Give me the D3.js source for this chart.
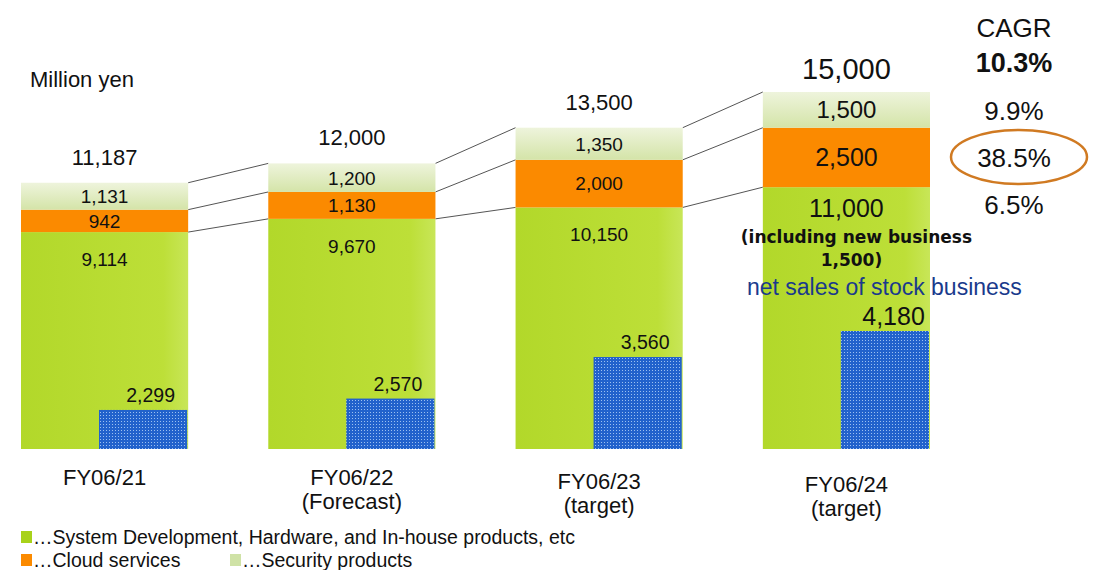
<!DOCTYPE html>
<html>
<head>
<meta charset="utf-8">
<script src="https://cdn.jsdelivr.net/npm/d3@7"></script>
<style>
  body { margin: 0; background: #fff; }
  text { font-family: "Liberation Sans", Arial, sans-serif; fill: #111; }
</style>
</head>
<body>
<script>
var categories = ["FY06/21", "FY06/22", "FY06/23", "FY06/24"];
var subLabels = ["", "(Forecast)", "(target)", "(target)"];
var system = [9114, 9670, 10150, 11000];
var cloud = [942, 1130, 2000, 2500];
var security = [1131, 1200, 1350, 1500];
var totals = [11187, 12000, 13500, 15000];
var stock = [2299, 2570, 3560, 4180];
var cagrLabels = ["10.3%", "9.9%", "38.5%", "6.5%"];

var width = 1099, height = 570;
var svg = d3.select("body").append("svg").attr("width", width).attr("height", height);
var defs = svg.append("defs");

var gGreen = defs.append("linearGradient").attr("id", "gGreen").attr("x1", 0).attr("x2", 1).attr("y1", 0).attr("y2", 0);
gGreen.append("stop").attr("offset", "0%").attr("stop-color", "#b2d82a");
gGreen.append("stop").attr("offset", "85%").attr("stop-color", "#bddf38");
gGreen.append("stop").attr("offset", "100%").attr("stop-color", "#c8e658");

var gLight = defs.append("linearGradient").attr("id", "gLight").attr("x1", 0).attr("x2", 0).attr("y1", 0).attr("y2", 1);
gLight.append("stop").attr("offset", "0%").attr("stop-color", "#eef4dc");
gLight.append("stop").attr("offset", "100%").attr("stop-color", "#d4e4a8");

var pat = defs.append("pattern").attr("id", "dots").attr("width", 3).attr("height", 3).attr("patternUnits", "userSpaceOnUse");
pat.append("rect").attr("width", 3).attr("height", 3).attr("fill", "#2262cc");
pat.append("rect").attr("x", 1).attr("y", 1).attr("width", 1).attr("height", 1).attr("fill", "#9cc0f0");

var x = d3.scaleBand().domain(categories).range([21, 930]).paddingInner(0.324).paddingOuter(0);
var y = d3.scaleLinear().domain([0, 15000]).range([449, 92]);
// stock business bars use their own scale (not to scale in the original)
var yStock = d3.scaleLinear().domain([1368, 4180]).range([0, 118]);

var rows = categories.map(function(c, i) {
  return {cat: c, sys: system[i], cloud: cloud[i], sec: security[i]};
});
var stack = d3.stack().keys(["sys", "cloud", "sec"])(rows);
var fills = {sys: "url(#gGreen)", cloud: "#fb8a00", sec: "url(#gLight)"};

var chartGroup = svg.append("g");

// connector lines between bars
stack.forEach(function(layer) {
  for (var i = 0; i < categories.length - 1; i++) {
    chartGroup.append("line")
      .attr("x1", x(categories[i]) + x.bandwidth())
      .attr("y1", y(layer[i][1]))
      .attr("x2", x(categories[i + 1]))
      .attr("y2", y(layer[i + 1][1]))
      .attr("stroke", "#555").attr("stroke-width", 1);
  }
});

stack.forEach(function(layer) {
  chartGroup.append("g").selectAll("rect")
    .data(layer).enter().append("rect")
      .attr("x", function(d) { return x(d.data.cat); })
      .attr("y", function(d) { return y(d[1]); })
      .attr("width", x.bandwidth())
      .attr("height", function(d) { return y(d[0]) - y(d[1]); })
      .attr("fill", fills[layer.key]);
});

// stock business (blue) bars
chartGroup.append("g").selectAll("rect")
  .data(stock).enter().append("rect")
    .attr("x", function(d, i) { return x(categories[i]) + 78; })
    .attr("y", function(d) { return y(0) - yStock(d); })
    .attr("width", x.bandwidth() - 79)
    .attr("height", function(d) { return yStock(d); })
    .attr("fill", "url(#dots)");

var fmt = d3.format(",");
var big = [false, false, false, true];

// segment labels
stack.forEach(function(layer) {
  layer.forEach(function(d, i) {
    var cx = x(categories[i]) + x.bandwidth() / 2;
    var yy, fs;
    if (layer.key == "sys") yy = y(d[1]) + (big[i] ? 21 : 27);
    else yy = (y(d[0]) + y(d[1])) / 2;
    if (big[i]) fs = (layer.key == "sec") ? "24px" : "25px";
    else fs = "19px";
    chartGroup.append("text")
      .attr("x", cx).attr("y", yy)
      .attr("dy", "0.36em")
      .attr("text-anchor", "middle")
      .style("font-size", fs)
      .text(fmt(d.data[layer.key]));
  });
});

// totals
totals.forEach(function(t, i) {
  chartGroup.append("text")
    .attr("x", x(categories[i]) + x.bandwidth() / 2)
    .attr("y", y(t) - (big[i] ? 13 : 18))
    .attr("text-anchor", "middle")
    .style("font-size", big[i] ? "29px" : "22px")
    .text(fmt(t));
});

// stock labels
stock.forEach(function(s, i) {
  chartGroup.append("text")
    .attr("x", x(categories[i]) + (big[i] ? 162 : 154))
    .attr("y", y(0) - yStock(s) - (big[i] ? 6 : 8))
    .attr("text-anchor", "end")
    .style("font-size", big[i] ? "25px" : "19.5px")
    .text(fmt(s));
});

// note under FY06/24 green value
var cx4 = x(categories[3]) + x.bandwidth() / 2;
chartGroup.append("text")
  .attr("x", cx4 + 10).attr("y", 243)
  .attr("text-anchor", "middle")
  .style("font-family", "'DejaVu Sans', Verdana, sans-serif")
  .style("font-weight", "bold").style("font-size", "17px")
  .text("(including new business");
chartGroup.append("text")
  .attr("x", cx4 + 5).attr("y", 266)
  .attr("text-anchor", "middle")
  .style("font-family", "'DejaVu Sans', Verdana, sans-serif")
  .style("font-weight", "bold").style("font-size", "17px")
  .text("1,500)");
chartGroup.append("text")
  .attr("x", cx4 + 38).attr("y", 295)
  .attr("text-anchor", "middle")
  .style("font-size", "23px").style("fill", "#1a3a8c")
  .text("net sales of stock business");

// category labels
var catY = [485, 485, 489, 492];
categories.forEach(function(c, i) {
  var cx = x(c) + x.bandwidth() / 2;
  chartGroup.append("text")
    .attr("x", cx).attr("y", catY[i])
    .attr("text-anchor", "middle").style("font-size", "22px").text(c);
  if (subLabels[i]) {
    chartGroup.append("text")
      .attr("x", cx).attr("y", catY[i] + 24)
      .attr("text-anchor", "middle").style("font-size", "22px").text(subLabels[i]);
  }
});

svg.append("text").attr("x", 30).attr("y", 87).style("font-size", "22px").text("Million yen");

// CAGR column
var cagrX = 1014;
svg.append("text").attr("x", cagrX).attr("y", 37).attr("text-anchor", "middle")
  .style("font-size", "26px").text("CAGR");
var cagrY = [62, 111, 158, 205];
cagrLabels.forEach(function(t, i) {
  svg.append("text").attr("x", cagrX).attr("y", cagrY[i]).attr("dy", "0.36em")
    .attr("text-anchor", "middle")
    .style("font-size", i == 0 ? "27px" : "26px")
    .style("font-weight", i == 0 ? "bold" : "normal")
    .text(t);
});
svg.append("ellipse").attr("cx", 1019).attr("cy", 157).attr("rx", 68).attr("ry", 27)
  .attr("fill", "none").attr("stroke", "#d07a22").attr("stroke-width", 2.5);

// legend
var legend = [
  {label: "…System Development, Hardware, and In-house products, etc", color: "#a8d21a", x: 21, y: 544},
  {label: "…Cloud services", color: "#fb8a00", x: 21, y: 567},
  {label: "…Security products", color: "#cfe2a6", x: 230, y: 567}
];
legend.forEach(function(l) {
  svg.append("rect").attr("x", l.x).attr("y", l.y - 13).attr("width", 11).attr("height", 12).attr("fill", l.color);
  svg.append("text").attr("x", l.x + 12).attr("y", l.y).style("font-size", "19.5px").text(l.label);
});
</script>
</body>
</html>
